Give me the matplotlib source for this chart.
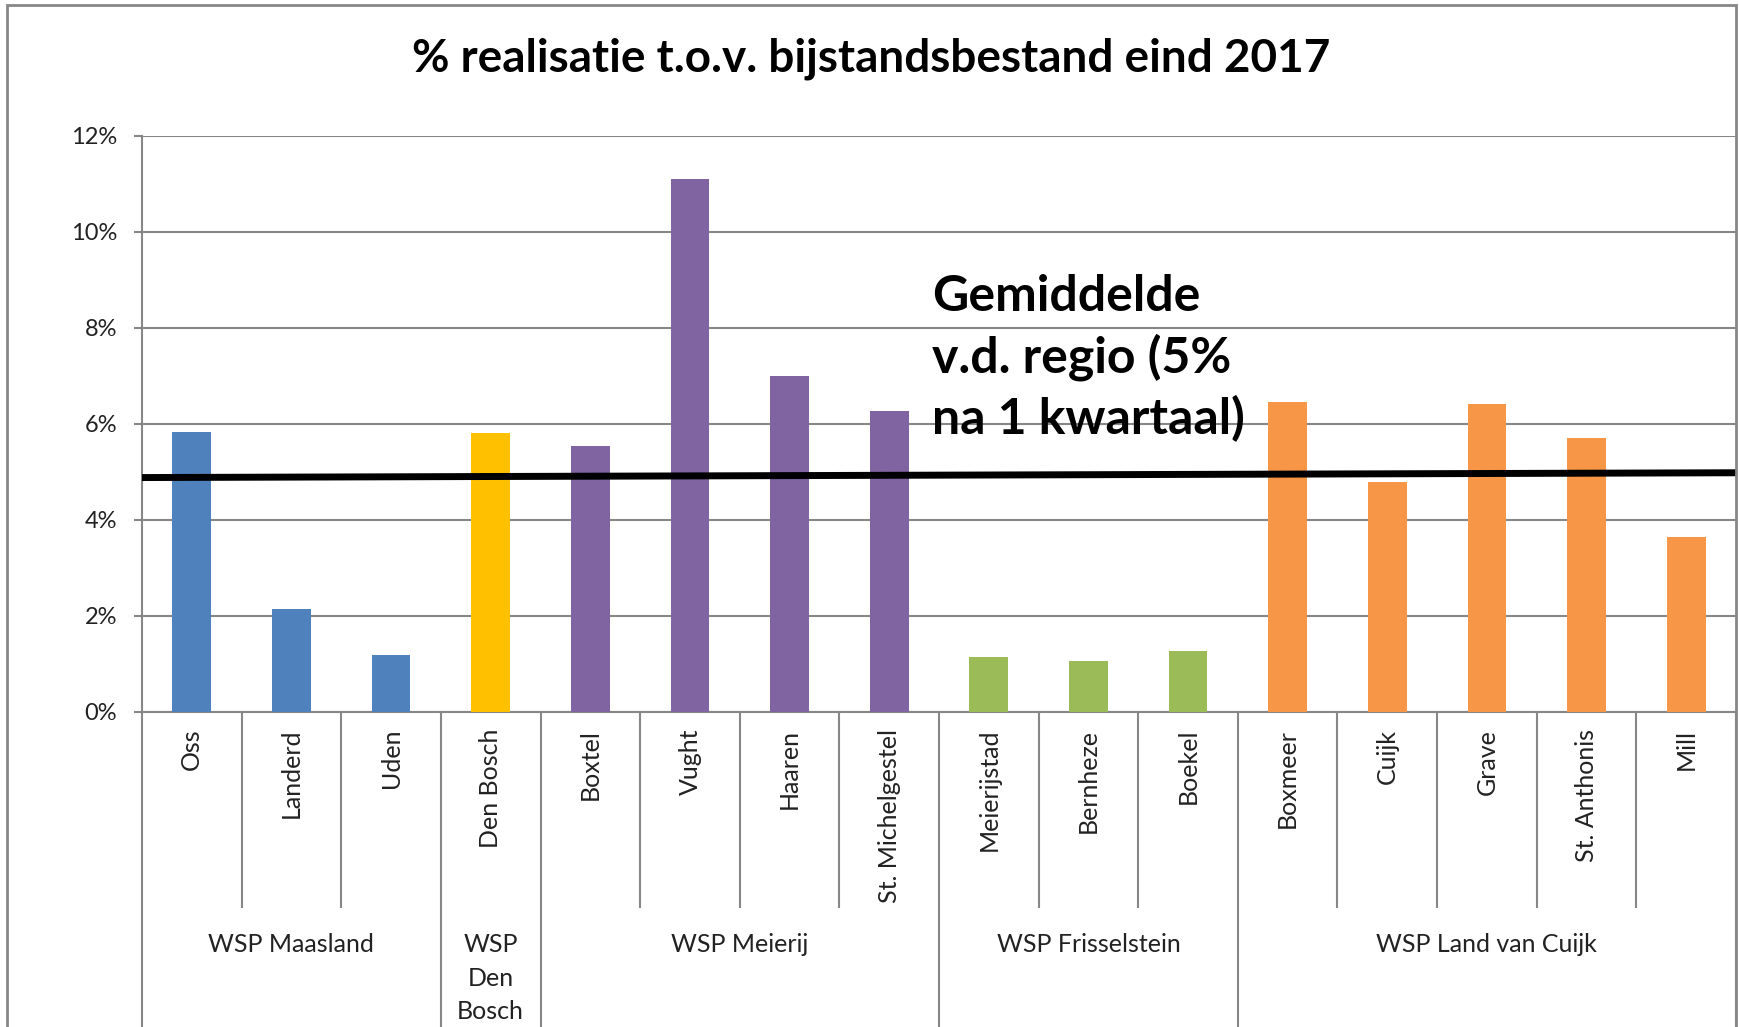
import matplotlib
matplotlib.use("Agg")
import matplotlib.pyplot as plt
from matplotlib.patches import Rectangle
from matplotlib.ticker import PercentFormatter

# ---- data ----
gemeenten = ["Oss", "Landerd", "Uden", "Den Bosch", "Boxtel", "Vught", "Haaren",
             "St. Michelgestel", "Meierijstad", "Bernheze", "Boekel", "Boxmeer",
             "Cuijk", "Grave", "St. Anthonis", "Mill"]
realisatie = [5.82, 2.14, 1.18, 5.80, 5.54, 11.09, 7.00, 6.26, 1.15, 1.07, 1.26,
              6.45, 4.78, 6.42, 5.71, 3.65]
groepen = ["WSP Maasland", "WSP\nDen\nBosch", "WSP Meierij", "WSP Frisselstein",
           "WSP Land van Cuijk"]
groep_grootte = [3, 1, 4, 3, 5]
groep_kleuren = ["#4F81BD", "#FFC000", "#8064A2", "#9BBB59", "#F79646"]
gemiddelde_lijn = [4.88, 4.98]   # drawn average line, left end / right end
yticks = [0, 2, 4, 6, 8, 10, 12]
titel = "% realisatie t.o.v. bijstandsbestand eind 2017"
notitie = "Gemiddelde\nv.d. regio (5%\nna 1 kwartaal)"

plt.rcParams['font.family'] = ['Lato', 'DejaVu Sans']
GRID = "#878787"
W, H = 1740, 1027
fig = plt.figure(figsize=(W / 100, H / 100), dpi=100)
fig.patch.set_facecolor("white")

ax_l, ax_r, ax_t, ax_b = 142, 1736, 135.5, 712
ax = fig.add_axes([ax_l / W, 1 - ax_b / H, (ax_r - ax_l) / W, (ax_b - ax_t) / H])

colors = []
for g, n in zip(groep_kleuren, groep_grootte):
    colors += [g] * n
x = list(range(len(gemeenten)))
ax.bar(x, realisatie, width=0.39, color=colors, zorder=3)

ax.set_xlim(-0.5, len(gemeenten) - 0.5)
ax.set_ylim(0, 12)
ax.set_yticks(yticks)
ax.yaxis.set_major_formatter(PercentFormatter(decimals=0))
ax.yaxis.grid(True, color=GRID, linewidth=1.5, zorder=0)
ax.set_axisbelow(True)
ax.tick_params(axis='y', length=6, width=1.5, color=GRID, pad=12,
               labelsize=17, labelcolor="#222222")
ax.set_xticks(x)
ax.set_xticklabels(gemeenten, rotation=90, fontsize=18, color="#222222")
ax.tick_params(axis='x', length=0, pad=12)
for s in ["top", "right"]:
    ax.spines[s].set_visible(False)
for s in ["left", "bottom"]:
    ax.spines[s].set_color(GRID)
    ax.spines[s].set_linewidth(1.5)

# average line
ax.plot([-0.5, len(gemeenten) - 0.5], gemiddelde_lijn, color="black", lw=5,
        solid_capstyle="butt", zorder=4, clip_on=False)

# category separators and group labels
tr = ax.get_xaxis_transform()
inner_bottom = -(907.7 - ax_b) / (ax_b - ax_t)
group_bottom = -0.7
bounds = []
pos = -0.5
for n in groep_grootte:
    bounds.append((pos, pos + n))
    pos += n
group_edges = set()
for a, b in bounds:
    group_edges.add(a)
    group_edges.add(b)
for i in range(len(gemeenten) + 1):
    xe = i - 0.5
    yb = group_bottom if xe in group_edges else inner_bottom
    ax.plot([xe, xe], [0, yb], transform=tr, color=GRID, lw=1.5, clip_on=False,
            solid_capstyle="butt")
label_y = -(933.5 - ax_b) / (ax_b - ax_t)
for (a, b), name in zip(bounds, groepen):
    ax.text((a + b) / 2, label_y, name, transform=tr, ha="center", va="top",
            fontsize=18, color="#222222", linespacing=1.55, clip_on=False)

# title and annotation
fig.text(871 / W, 1 - 59 / H, titel, ha="center", va="center", fontsize=33,
         fontweight="bold", color="black")
fig.text(932 / W, 1 - 434 / H, notitie, ha="left", va="baseline", fontsize=36,
         fontweight="bold", color="black", linespacing=1.36)

# outer chart frame
fig.patches.append(Rectangle((7 / W, -0.1), (1736 - 7) / W, 1.1 - 5 / H,
                             transform=fig.transFigure, fill=False,
                             edgecolor=GRID, lw=2))

fig.savefig("out.png", dpi=100, facecolor="white")
